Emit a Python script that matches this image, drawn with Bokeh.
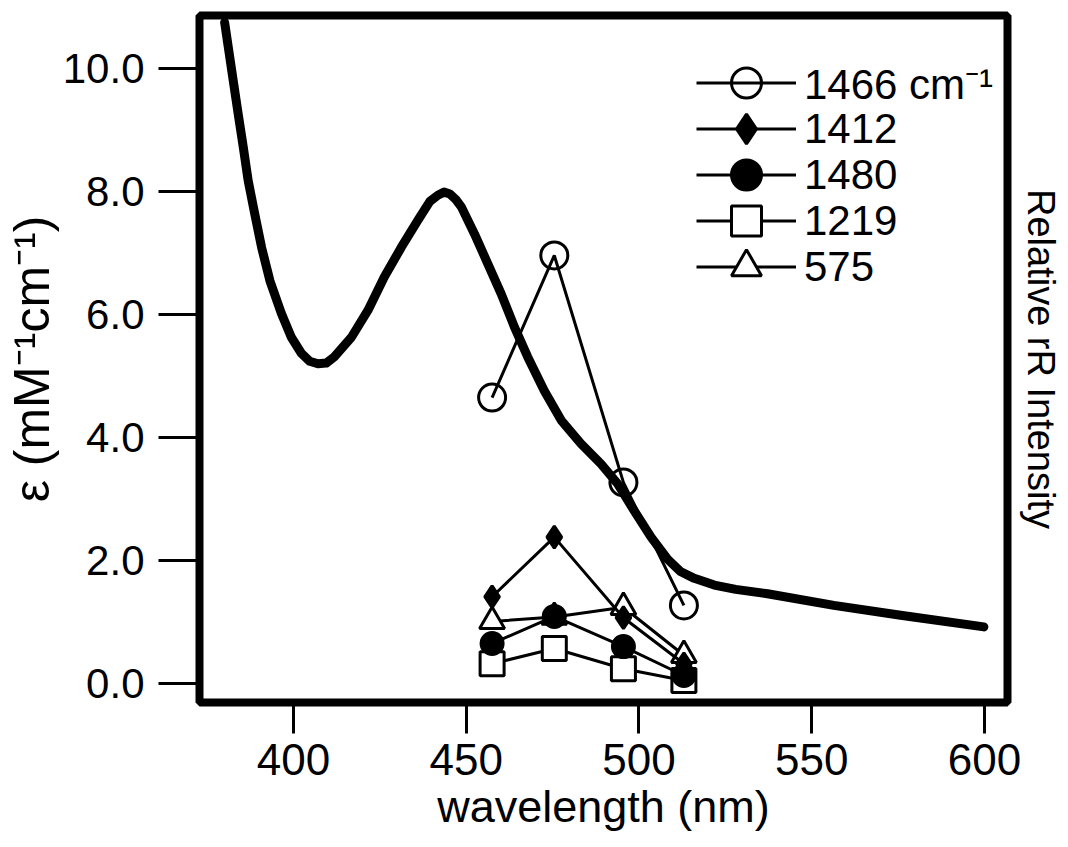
from bokeh.plotting import figure
from bokeh.models import (Range1d, FixedTicker, PrintfTickFormatter, LinearAxis,
                          Legend, LegendItem)
from bokeh.embed import file_html
from bokeh.resources import INLINE

# ---------------- data ----------------
abs_wavelength = [380.1, 382.6, 384.0, 385.5, 386.9, 388.8, 390.8, 393.2, 396.5, 399.4,
                  402.3, 404.7, 407.1, 409.5, 411.8, 416.8, 421.6, 426.3, 431.2, 436.0,
                  439.5, 441.8, 443.6, 445.3, 447.0, 448.6, 452.4, 456.3, 460.1, 464.0,
                  467.8, 472.6, 477.5, 483.2, 489.0, 493.8, 498.6, 503.5, 508.3, 512.0,
                  516.0, 521.8, 528.0, 537.2, 556.4, 575.7, 599.8]
abs_epsilon = [10.75, 9.80, 9.27, 8.72, 8.18, 7.64, 7.09, 6.55, 6.02, 5.63,
               5.37, 5.24, 5.20, 5.21, 5.31, 5.63, 6.07, 6.61, 7.09, 7.53,
               7.84, 7.94, 7.99, 7.96, 7.87, 7.75, 7.31, 6.82, 6.34, 5.79,
               5.31, 4.76, 4.28, 3.90, 3.57, 3.25, 2.81, 2.38, 2.02, 1.82,
               1.71, 1.60, 1.53, 1.46, 1.27, 1.11, 0.92]

exc_wavelength = [457.5, 475.5, 495.5, 513.0]
rr_1466 = [4.65, 6.96, 3.27, 1.27]
rr_1412 = [1.41, 2.38, 1.07, 0.32]
rr_1480 = [0.65, 1.09, 0.60, 0.13]
rr_1219 = [0.32, 0.57, 0.24, 0.05]
rr_575 = [1.01, 1.08, 1.24, 0.46]

series_names = ["1466 cm⁻¹", "1412", "1480", "1219", "575"]
x_ticks = [400, 450, 500, 550, 600]
y_ticks = [0, 2, 4, 6, 8, 10]

x_label = "wavelength (nm)"
y_label = "ε (mM⁻¹cm⁻¹)"
y2_label = "Relative rR Intensity"

FONT = "Liberation Sans"

# ---------------- figure ----------------
p = figure(width=1064, height=846,
           x_range=Range1d(372.83, 606.64), y_range=Range1d(-0.309, 10.862),
           output_backend="svg", toolbar_location=None,
           min_border_left=198, min_border_right=57,
           min_border_top=15, min_border_bottom=144)
p.grid.visible = False
p.background_fill_color = "white"
p.border_fill_color = "white"
p.outline_line_color = "black"
p.outline_line_width = 8

xa = p.xaxis[0]
ya = p.yaxis[0]
xa.ticker = FixedTicker(ticks=x_ticks)
ya.ticker = FixedTicker(ticks=y_ticks)
xa.formatter = PrintfTickFormatter(format="%d")
ya.formatter = PrintfTickFormatter(format="%.1f")
for ax in (xa, ya):
    ax.axis_line_color = None
    ax.major_tick_in = 0
    ax.minor_tick_line_color = None
    ax.major_tick_line_color = "black"
    ax.major_tick_line_width = 3
    ax.major_label_text_font = FONT
    ax.major_label_text_color = "black"
    ax.axis_label_text_font = FONT
    ax.axis_label_text_font_style = "normal"
    ax.axis_label_text_color = "black"
ya.major_tick_out = 41
ya.major_label_standoff = 14
ya.major_label_text_font_size = "42px"
ya.axis_label = y_label
ya.axis_label_text_font_size = "50px"
ya.axis_label_standoff = 0
xa.major_tick_out = 31
xa.major_label_standoff = 10
xa.major_label_text_font_size = "44px"
xa.axis_label = x_label
xa.axis_label_text_font_size = "45px"
xa.axis_label_standoff = 3

ra = LinearAxis(ticker=FixedTicker(ticks=[]), axis_label=y2_label,
                axis_line_color=None, major_tick_out=0, major_tick_in=0,
                minor_tick_line_color=None, major_label_standoff=0,
                axis_label_standoff=12, axis_label_text_font=FONT,
                axis_label_text_font_size="38px", axis_label_text_font_style="normal",
                axis_label_text_color="black")
p.add_layout(ra, "right")

# absorption spectrum
p.line(abs_wavelength, abs_epsilon, line_width=9, line_color="black",
       line_join="round", line_cap="round")

# rR excitation profiles (drawn back to front)
styles = {
    "575": dict(marker="triangle", size=25, fill_color="white", fill_alpha=1.0),
    "1219": dict(marker="square", size=24, fill_color="white", fill_alpha=1.0),
    "1480": dict(marker="circle", size=22, fill_color="black", fill_alpha=1.0),
    "1412": dict(marker="diamond", size=22, fill_color="black", fill_alpha=1.0),
    "1466 cm⁻¹": dict(marker="circle", size=27, fill_color="white", fill_alpha=0.0),
}
values = {"1466 cm⁻¹": rr_1466, "1412": rr_1412, "1480": rr_1480,
          "1219": rr_1219, "575": rr_575}

renderers = {}
for name in ["575", "1219", "1480", "1412", "1466 cm⁻¹"]:
    st = styles[name]
    lr = p.line(exc_wavelength, values[name], line_width=3, line_color="black")
    mr = p.scatter(exc_wavelength, values[name], marker=st["marker"], size=st["size"],
                   fill_color=st["fill_color"], fill_alpha=st["fill_alpha"],
                   line_color="black", line_width=3)
    renderers[name] = [lr, mr]

# legend: one single-row legend per series so that the rows can sit close together
ROW_PITCH = 46
for i, name in enumerate(series_names):
    lg = Legend(items=[LegendItem(label=name, renderers=renderers[name])],
                location=(497, 582 - ROW_PITCH * i), glyph_width=100, glyph_height=75,
                padding=0, margin=0, label_standoff=8,
                label_text_font=FONT, label_text_font_size="42px",
                label_text_color="black",
                border_line_color=None, background_fill_alpha=0)
    p.add_layout(lg)

open("out.html", "w").write(file_html(p, INLINE))
